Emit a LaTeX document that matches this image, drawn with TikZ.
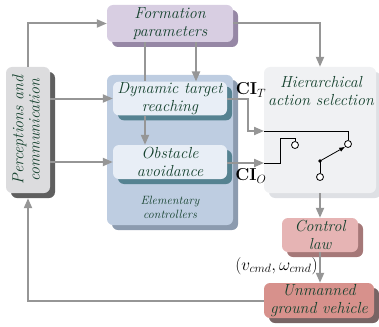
\documentclass[tikz,border=0pt]{standalone}
\usetikzlibrary{arrows.meta,shadows}
\definecolor{txtgreen}{RGB}{20,65,45}
\definecolor{arrgray}{RGB}{150,150,150}
\definecolor{formfill}{RGB}{216,206,226}
\definecolor{formshade}{RGB}{150,135,165}
\definecolor{percfill}{RGB}{220,220,222}
\definecolor{percshade}{RGB}{95,95,95}
\definecolor{elemfill}{RGB}{190,205,225}
\definecolor{elemshade}{RGB}{140,155,175}
\definecolor{ctlfill}{RGB}{232,238,246}
\definecolor{ctlshade}{RGB}{85,130,145}
\definecolor{hierfill}{RGB}{240,241,243}
\definecolor{hiershade}{RGB}{222,224,228}
\definecolor{lawfill}{RGB}{230,180,180}
\definecolor{lawshade}{RGB}{165,120,120}
\definecolor{ugvfill}{RGB}{215,145,140}
\definecolor{ugvshade}{RGB}{120,100,100}
\tikzset{
  blk/.style={rounded corners=6pt, align=center, text=txtgreen, inner sep=1pt,
    font=\itshape\fontsize{16}{17.5}\selectfont},
  shade/.style={general shadow={fill=#1, shadow xshift=5pt, shadow yshift=-5pt}},
  arr/.style={draw=arrgray, line width=2pt, -{Triangle[length=10pt,width=8pt]}},
  wire/.style={draw=black, line width=0.8pt},
  sw/.style={circle, draw=black, line width=0.8pt, fill=white, inner sep=0pt, minimum size=7pt}
}
\begin{document}
\begin{tikzpicture}[x=1pt,y=-1pt]
        \useasboundingbox (0,0) rectangle (379,326);
        \begin{scope}[every node/.style={blk}]
          \node[fill=formfill, shade=formshade, minimum width=126, minimum height=37] (form) at (170,23.5) {Formation\\parameters};
          \node[fill=percfill, shade=percshade, minimum width=44, minimum height=126] (perc) at (28,130)
            {\rotatebox{90}{\begin{tabular}{@{}c@{}}Perceptions and\\[-1pt]communication\end{tabular}}};
          \node[fill=elemfill, shade=elemshade, minimum width=126, minimum height=150] (elem) at (170,150) {};
          \node[fill=ctlfill, shade=ctlshade, minimum width=114, minimum height=33] (dyn) at (170,98.5) {Dynamic target\\reaching};
          \node[fill=ctlfill, shade=ctlshade, minimum width=114, minimum height=34] (obs) at (170,162) {Obstacle\\avoidance};
          \node[font=\itshape\fontsize{12}{14}\selectfont] (elemtxt) at (170,207) {Elementary\\controllers};
          \node[fill=hierfill, shade=hiershade, minimum width=112, minimum height=126] (hier) at (320,130) {};
          \node (hiertxt) at (321,91) {Hierarchical\\action selection};
          \node[fill=lawfill, shade=lawshade, minimum width=76, minimum height=34] (law) at (320,235) {Control\\law};
          \node[fill=ugvfill, shade=ugvshade, minimum width=110, minimum height=35] (ugv) at (319,300.5) {Unmanned\\ground vehicle};
        \end{scope}
        % switch inside the selection block
        \coordinate (inT) at (264,131);
        \coordinate (inO) at (264,163);
        \coordinate (piv) at (320,161);
        \node[sw] (swL) at (295,145) {};
        \node[sw] (swR) at (348,144) {};
        \node[sw] (swB) at (320,177) {};
        \draw[wire] (inT) -| (swR.north);
        \draw[wire] (inO) -- ++(16,0) -- ++(0,-25) -| (swL.north);
        \draw[wire] (swB.north) -- (piv);
        \fill (piv) circle (1.8);
        \draw[wire,-{Latex[length=6pt,width=4.5pt]}] (piv) -- (swR.225);
        \begin{scope}[every path/.style={arr}]
          \draw (perc.north) |- (form.west);
          \draw (perc.east |- dyn.west) -- (dyn.west);
          \draw (perc.east |- obs.west) -- (obs.west);
          \draw ([xshift=26pt]form.south) -- ([xshift=26pt]dyn.north);
          \draw[-] ([xshift=-25pt]form.south) -- ([xshift=-25pt]dyn.north);
          \draw ([xshift=-25pt]dyn.south) -- ([xshift=-25pt]obs.north);
          \draw (form.east) -| (hier.north);
          \draw (dyn.east) -- ++(21,0) |- (inT);
          \draw (obs.east |- inO) -- (inO);
          \draw (hier.south) -- (hier.south |- law.north);
          \draw (hier.south |- law.south) -- (hier.south |- ugv.north)
            node[pos=0.45, left=-2pt, text=black, font=\fontsize{17}{19}\selectfont] (cmd) {$\Bigl(v_{cmd},\omega_{cmd}\Bigr)$};
          \draw (ugv.west) -| ([yshift=-5pt]perc.south);
        \end{scope}
        \node[font=\fontsize{17}{19}\selectfont] (ciT) at (251,90) {$\mathbf{CI}_{T}$};
        \node[font=\fontsize{17}{19}\selectfont] (ciO) at (251,176) {$\mathbf{CI}_{O}$};
\end{tikzpicture}
\end{document}
